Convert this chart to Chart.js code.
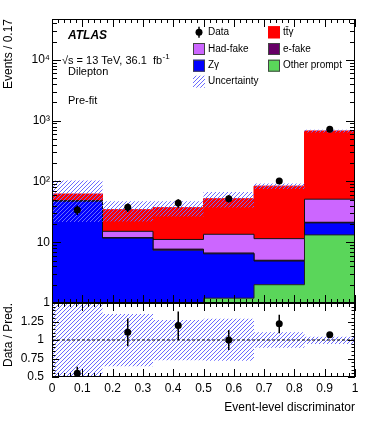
<!DOCTYPE html>
<html>
<head>
<meta charset="utf-8">
<script src="https://cdn.jsdelivr.net/npm/chart.js@4.4.0/dist/chart.umd.min.js"></script>
<style>
  html, body { margin: 0; padding: 0; background: #fff; }
  #wrap { position: relative; width: 374px; height: 421px; background: #fff; overflow: hidden; }
  #wrap canvas { position: absolute; left: 0; }
  #main { top: 0; }
  #ratio { top: 295px; }
</style>
</head>
<body>
<div id="wrap">
  <canvas id="main" width="374" height="315"></canvas>
  <canvas id="ratio" width="374" height="126"></canvas>
</div>
<script>
// binning of the discriminator (6 bins of 1/6)
const binEdges = [0, 1/6, 2/6, 3/6, 4/6, 5/6, 1];
const binCenters = [1/12, 3/12, 5/12, 7/12, 9/12, 11/12];

// predictions per bin, stacked bottom -> top
const otherPrompt = [0.3, 0.3, 0.4, 1.2, 2.0, 13.2];
const zGamma = [47, 11.4, 7.0, 5.25, 2.9, 7.6];
const eFake = [0.3, 0.2, 0.3, 0.2, 0.15, 0.5];
const hadFake = [0.5, 3.2, 3.4, 6.85, 6.4, 29.7];
const ttGamma = [14, 19.2, 25.9, 38.5, 72.2, 625];

// uncertainty band on the total
const uncLow = [21.5, 22, 26.6, 37.4, 75, 639];
const uncHigh = [104, 47, 47, 67, 92.5, 706];

// data
const dataVals = [34, 37.5, 44, 52, 102, 725];
const dataErr = [6, 6, 7, 7, 10, 27];

// ratio panel
const ratioVals = [0.55, 1.105, 1.195, 1.0, 1.22, 1.07];
const ratioErrLo = [0.1, 0.19, 0.195, 0.135, 0.13, 0.03];
const ratioErrHi = [0.09, 0.185, 0.19, 0.135, 0.12, 0.03];
const ratioUncLow = [0.35, 0.645, 0.727, 0.718, 0.895, 0.945];
const ratioUncHigh = [1.65, 1.35, 1.27, 1.287, 1.105, 1.045];
const refX = [0, 1];
const refY = [1, 1];

// ticks
const xTicks = [0, 0.1, 0.2, 0.3, 0.4, 0.5, 0.6, 0.7, 0.8, 0.9, 1];
const xTickLabels = ['0', '0.1', '0.2', '0.3', '0.4', '0.5', '0.6', '0.7', '0.8', '0.9', '1'];
const yTicks = [1, 10, 100, 1000, 10000];
const yTickLabels = ['1', '10', '10²', '10³', '10⁴'];
const rTicks = [0.5, 0.75, 1, 1.25, 1.5];
const rTickLabels = ['0.5', '0.75', '1', '1.25', ''];

const FONT = "'Liberation Sans', Arial, Helvetica, sans-serif";
Chart.defaults.font.family = FONT;
Chart.defaults.color = '#000';
Chart.defaults.animation = false;
Chart.defaults.events = [];
Chart.defaults.plugins.legend.display = false;
Chart.defaults.plugins.tooltip.enabled = false;

// "///" hatch, 1px crisp diagonals every 4px
function hatch() {
  const c = document.createElement('canvas');
  c.width = 4; c.height = 4;
  const g = c.getContext('2d');
  g.fillStyle = '#6a6aff';
  for (let i = 0; i < 4; i++) g.fillRect(i, 3 - i, 1, 1);
  return g.createPattern(c, 'repeat');
}
const hatchFill = hatch();

// histogram outline as step line through the bin edges
function steps(vals) {
  const pts = vals.map((v, i) => ({x: binEdges[i], y: v}));
  pts.push({x: binEdges[vals.length], y: vals[vals.length - 1]});
  return pts;
}
function points(xs, ys) {
  return ys.map((v, i) => ({x: xs[i], y: v}));
}

function histo(label, vals, color, line, fill) {
  return {
    label: label, data: steps(vals), stepped: true, order: 2,
    backgroundColor: color, borderColor: line, borderWidth: 1,
    pointRadius: 0, fill: fill
  };
}

// inward ROOT-like ticks + frame
const frame = {
  id: 'frame',
  afterDraw(chart, args, o) {
    const {ctx, chartArea: a} = chart;
    const x = chart.scales.x, y = chart.scales.y;
    ctx.save();
    ctx.strokeStyle = '#000';
    ctx.lineWidth = 1;
    ctx.beginPath();
    const vx = (v, len) => {
      const p = Math.round(x.getPixelForValue(v)) + 0.5;
      ctx.moveTo(p, a.bottom); ctx.lineTo(p, a.bottom - len);
      ctx.moveTo(p, a.top); ctx.lineTo(p, a.top + len);
    };
    const hy = (v, len) => {
      const p = Math.round(y.getPixelForValue(v)) + 0.5;
      ctx.moveTo(a.left, p); ctx.lineTo(a.left + len, p);
      ctx.moveTo(a.right, p); ctx.lineTo(a.right - len, p);
    };
    o.xMinor.forEach(v => vx(v, o.xLen[1]));
    xTicks.forEach(v => vx(v, o.xLen[0]));
    o.yMinor.forEach(v => hy(v, o.yLen[1]));
    o.yMajor.forEach(v => hy(v, o.yLen[0]));
    ctx.stroke();
    ctx.strokeRect(a.left + 0.5, a.top + 0.5, a.right - a.left - 1, a.bottom - a.top - 1);
    ctx.restore();
  }
};

const errorBars = {
  id: 'errorBars',
  afterDatasetsDraw(chart) {
    const {ctx, chartArea: a} = chart;
    ctx.save();
    ctx.beginPath();
    ctx.rect(a.left, a.top, a.right - a.left, a.bottom - a.top);
    ctx.clip();
    ctx.strokeStyle = '#000';
    ctx.lineWidth = 1.5;
    chart.data.datasets.forEach(ds => {
      if (!ds.errLo) return;
      ds.data.forEach((p, j) => {
        const px = chart.scales.x.getPixelForValue(p.x);
        ctx.beginPath();
        ctx.moveTo(px, chart.scales.y.getPixelForValue(p.y - ds.errLo[j]));
        ctx.lineTo(px, chart.scales.y.getPixelForValue(p.y + ds.errHi[j]));
        ctx.stroke();
      });
    });
    ctx.restore();
  }
};

const labels = {
  id: 'labels',
  afterDraw(chart) {
    const ctx = chart.ctx;
    ctx.save();
    ctx.fillStyle = '#000';
    ctx.textAlign = 'left';
    ctx.textBaseline = 'middle';
    ctx.font = 'italic bold 12px ' + FONT;
    ctx.fillText('ATLAS', 68, 36);
    ctx.font = '11px ' + FONT;
    const lumi = '√s = 13 TeV, 36.1  fb';
    ctx.fillText(lumi, 62, 61);
    const w = ctx.measureText(lumi).width;
    ctx.font = '8px ' + FONT;
    ctx.fillText('-1', 62 + w + 0.5, 57);
    ctx.font = '11px ' + FONT;
    ctx.fillText('Dilepton', 68, 71.5);
    ctx.fillText('Pre-fit', 68, 100.5);

    // legend, two columns
    const ds = chart.data.datasets;
    const items = [
      {ds: 7, c: 0, r: 0}, {ds: 4, c: 1, r: 0},
      {ds: 3, c: 0, r: 1}, {ds: 2, c: 1, r: 1},
      {ds: 1, c: 0, r: 2}, {ds: 0, c: 1, r: 2},
      {ds: 6, c: 0, r: 3}
    ];
    const colX = [193, 268];
    const rowY = [32.3, 49, 65.7, 81.7];
    ctx.font = '10px ' + FONT;
    items.forEach(it => {
      const d = ds[it.ds];
      const x0 = colX[it.c], yc = rowY[it.r];
      if (it.ds === 7) {
        ctx.strokeStyle = '#000';
        ctx.lineWidth = 1.5;
        ctx.beginPath();
        ctx.moveTo(x0 + 6, yc - 5.5); ctx.lineTo(x0 + 6, yc + 5.5);
        ctx.stroke();
        ctx.beginPath();
        ctx.arc(x0 + 6, yc, 3.5, 0, Math.PI * 2);
        ctx.fill();
      } else if (it.ds === 6) {
        ctx.fillStyle = hatchFill;
        ctx.fillRect(x0, yc - 6, 12, 12);
      } else {
        ctx.fillStyle = d.backgroundColor;
        ctx.fillRect(x0, yc - 6, 12, 12);
        ctx.strokeStyle = d.borderColor === '#ff0000' ? '#ff0000' : '#444';
        ctx.lineWidth = 1;
        ctx.strokeRect(x0 + 0.5, yc - 5.5, 11, 11);
      }
      ctx.fillStyle = '#000';
      ctx.fillText(d.label, x0 + 15, yc);
    });
    ctx.restore();
  }
};

const xMinor = [];
for (let i = 0; i <= 50; i++) xMinor.push(i / 50);
const yMinor = [];
yTicks.forEach(d => { for (let m = 2; m <= 9; m++) if (d * m < 47000) yMinor.push(d * m); });
const rMinor = [];
for (let i = 0; i <= 20; i++) rMinor.push(0.5 + i * 0.05);

new Chart(document.getElementById('main'), {
  type: 'line',
  data: {
    datasets: [
      histo('Other prompt', otherPrompt, '#5ad65a', '#222', 'start'),
      histo('Zγ', zGamma, '#0000ff', '#111', '-1'),
      histo('e-fake', eFake, '#660066', '#111', '-1'),
      histo('Had-fake', hadFake, '#cc66ff', '#111', '-1'),
      histo('tt̄γ', ttGamma, '#ff0000', '#ff0000', '-1'),
      {label: 'uncLo', data: steps(uncLow), stepped: true, stack: 'uLo', order: 1,
       borderWidth: 0, borderColor: 'rgba(0,0,0,0)', pointRadius: 0, fill: false},
      {label: 'Uncertainty', data: steps(uncHigh), stepped: true, stack: 'uHi', order: 1,
       borderWidth: 0, borderColor: 'rgba(0,0,0,0)', backgroundColor: hatchFill, pointRadius: 0, fill: '-1'},
      {label: 'Data', data: points(binCenters, dataVals), stack: 'pts', order: 0, showLine: false,
       pointRadius: 3.5, pointBackgroundColor: '#000', pointBorderWidth: 0, borderColor: '#000',
       errLo: dataErr, errHi: dataErr}
    ]
  },
  options: {
    responsive: false,
    layout: {padding: {top: 19, right: 19, bottom: 12, left: 0}},
    scales: {
      x: {type: 'linear', min: 0, max: 1, display: false},
      y: {
        type: 'logarithmic', min: 1, max: 47000, stacked: true,
        afterBuildTicks: s => { s.ticks = yTicks.map(v => ({value: v})); },
        ticks: {callback: (v, i) => yTickLabels[i], padding: 2, autoSkip: false, font: {size: 12}},
        grid: {display: false, drawTicks: false},
        border: {display: false},
        title: {display: true, text: 'Events / 0.17', align: 'end', padding: {top: 1, bottom: 0}, font: {size: 12}},
        afterFit: s => { s.width = 52; s.paddingTop = 0; s.paddingBottom = 0; }
      }
    },
    plugins: {
      frame: {xMinor: xMinor, xLen: [8, 4], yMajor: yTicks, yMinor: yMinor, yLen: [9, 5]}
    }
  },
  plugins: [errorBars, frame, labels]
});

new Chart(document.getElementById('ratio'), {
  type: 'line',
  data: {
    datasets: [
      {label: 'rLo', data: steps(ratioUncLow), stepped: true, order: 2,
       borderWidth: 0, borderColor: 'rgba(0,0,0,0)', pointRadius: 0, fill: false},
      {label: 'rHi', data: steps(ratioUncHigh), stepped: true, order: 2,
       borderWidth: 0, borderColor: 'rgba(0,0,0,0)', backgroundColor: hatchFill, pointRadius: 0, fill: '-1'},
      {label: 'one', data: points(refX, refY), order: 1, borderColor: '#000', borderWidth: 1,
       borderDash: [3, 2], pointRadius: 0, fill: false},
      {label: 'Data / Pred.', data: points(binCenters, ratioVals), order: 0, showLine: false,
       pointRadius: 3.5, pointBackgroundColor: '#000', pointBorderWidth: 0, borderColor: '#000',
       errLo: ratioErrLo, errHi: ratioErrHi}
    ]
  },
  options: {
    responsive: false,
    layout: {padding: {top: 8, right: 19, bottom: 0, left: 0}},
    scales: {
      x: {
        type: 'linear', min: 0, max: 1,
        afterBuildTicks: s => { s.ticks = xTicks.map(v => ({value: v})); },
        ticks: {callback: (v, i) => xTickLabels[i], padding: 4, maxRotation: 0, autoSkip: false, font: {size: 12}},
        grid: {display: false, drawTicks: false},
        border: {display: false},
        title: {display: true, text: 'Event-level discriminator', align: 'end', padding: {top: 0, bottom: 6}, font: {size: 12}},
        afterFit: s => { s.height = 44; s.paddingLeft = 0; s.paddingRight = 0; }
      },
      y: {
        type: 'linear', min: 0.5, max: 1.5,
        afterBuildTicks: s => { s.ticks = rTicks.map(v => ({value: v})); },
        ticks: {callback: (v, i) => rTickLabels[i], padding: 8, autoSkip: false, font: {size: 12}},
        grid: {display: false, drawTicks: false},
        border: {display: false},
        title: {display: true, text: 'Data / Pred.', align: 'end', padding: {top: 1, bottom: 0}, font: {size: 12}},
        afterFit: s => { s.width = 52; s.paddingTop = 0; s.paddingBottom = 0; }
      }
    },
    plugins: {
      frame: {xMinor: xMinor, xLen: [8, 4], yMajor: rTicks, yMinor: rMinor, yLen: [7, 3.5]}
    }
  },
  plugins: [errorBars, frame]
});
</script>
</body>
</html>
